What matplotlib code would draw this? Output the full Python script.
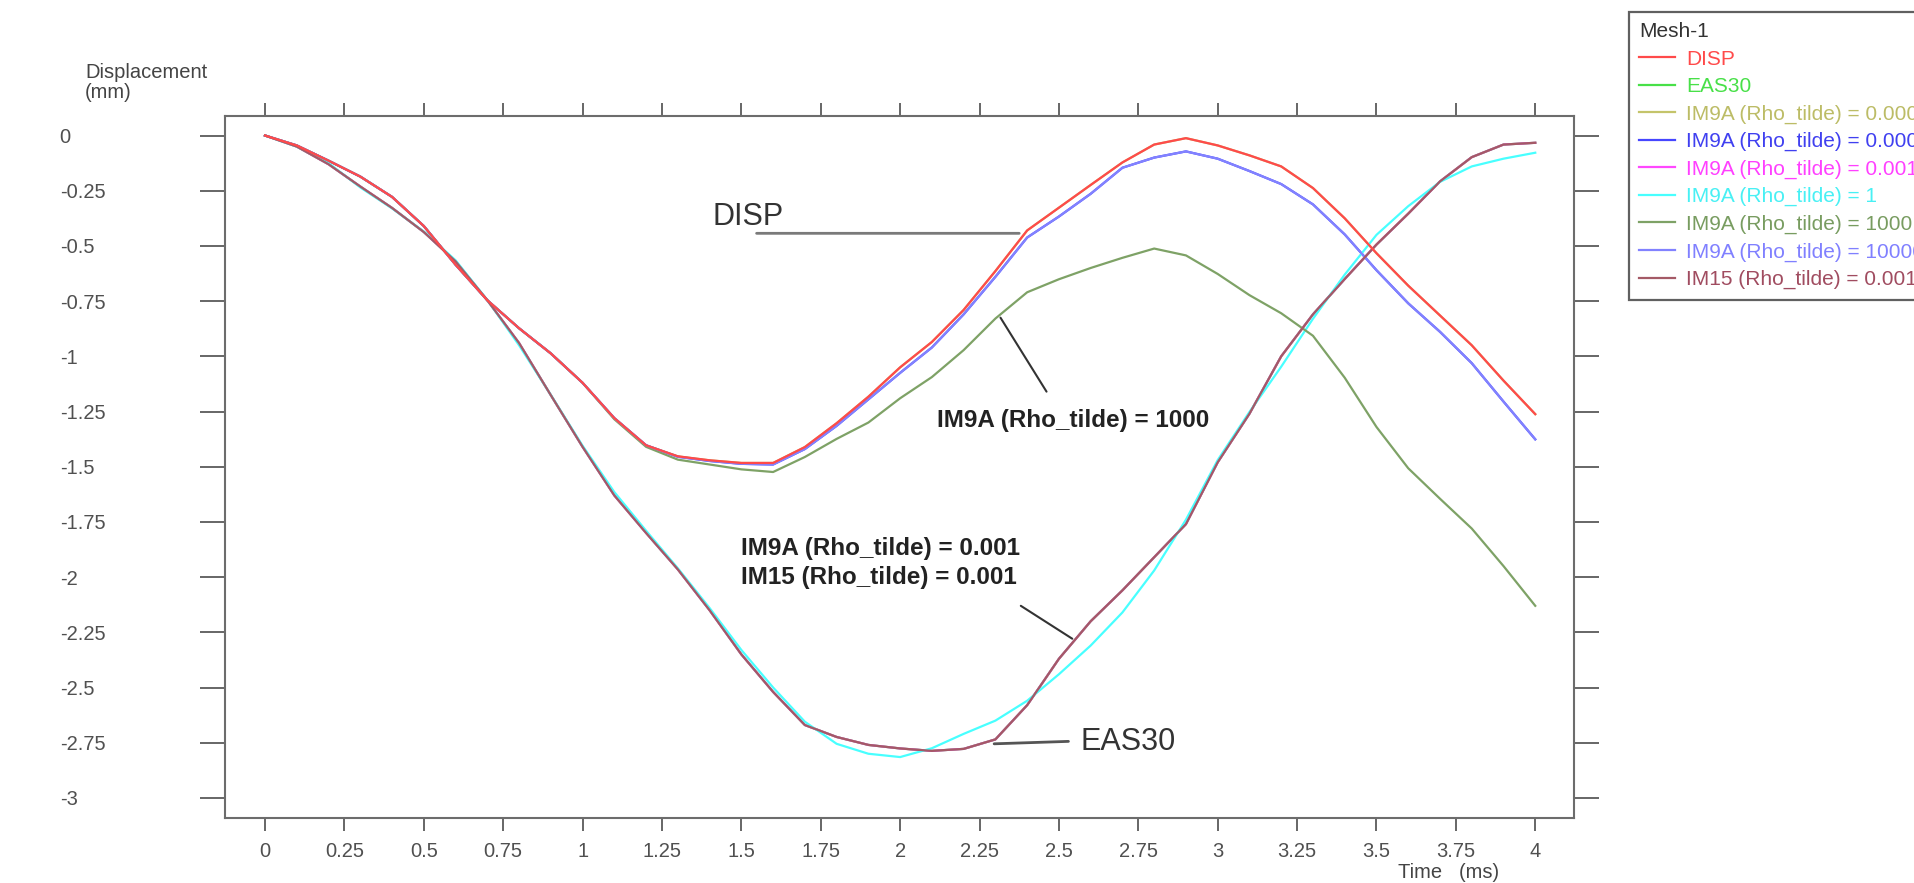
import matplotlib
matplotlib.use("Agg")
import matplotlib.pyplot as plt

plt.rcParams['font.family'] = ['Liberation Sans', 'DejaVu Sans']

# ---------------- data ----------------
time_ms = [0.0, 0.1, 0.2, 0.3, 0.4, 0.5, 0.6, 0.7, 0.8, 0.9,
           1.0, 1.1, 1.2, 1.3, 1.4, 1.5, 1.6, 1.7, 1.8, 1.9,
           2.0, 2.1, 2.2, 2.3, 2.4, 2.5, 2.6, 2.7, 2.8, 2.9,
           3.0, 3.1, 3.2, 3.3, 3.4, 3.5, 3.6, 3.7, 3.8, 3.9, 4.0]

disp = [0.0, -0.045, -0.114, -0.186, -0.278, -0.41, -0.585, -0.746, -0.873, -0.987,
        -1.12, -1.28, -1.403, -1.453, -1.471, -1.483, -1.483, -1.411, -1.303, -1.183,
        -1.05, -0.935, -0.79, -0.614, -0.43, -0.327, -0.224, -0.122, -0.041, -0.012,
        -0.045, -0.09, -0.14, -0.238, -0.375, -0.533, -0.68, -0.815, -0.95, -1.11, -1.262]

im9a_rho_10000 = [0.0, -0.045, -0.114, -0.186, -0.278, -0.41, -0.585, -0.746, -0.873, -0.987,
                  -1.12, -1.28, -1.403, -1.455, -1.474, -1.487, -1.49, -1.42, -1.315, -1.195,
                  -1.075, -0.96, -0.81, -0.64, -0.462, -0.367, -0.264, -0.146, -0.1, -0.072,
                  -0.105, -0.161, -0.22, -0.312, -0.448, -0.61, -0.76, -0.889, -1.031, -1.205, -1.376]

im9a_rho_1000 = [0.0, -0.045, -0.114, -0.186, -0.278, -0.41, -0.585, -0.746, -0.873, -0.987,
                 -1.12, -1.285, -1.41, -1.468, -1.49, -1.512, -1.524, -1.456, -1.374, -1.30,
                 -1.19, -1.094, -0.972, -0.829, -0.71, -0.651, -0.60, -0.554, -0.512, -0.543,
                 -0.627, -0.723, -0.805, -0.907, -1.097, -1.32, -1.507, -1.645, -1.78, -1.95, -2.13]

im9a_rho_1 = [0.0, -0.05, -0.125, -0.235, -0.33, -0.435, -0.565, -0.745, -0.95, -1.175,
              -1.405, -1.615, -1.79, -1.96, -2.14, -2.33, -2.50, -2.655, -2.755, -2.80,
              -2.815, -2.775, -2.71, -2.65, -2.56, -2.44, -2.31, -2.16, -1.97, -1.74,
              -1.47, -1.252, -1.047, -0.83, -0.63, -0.45, -0.32, -0.21, -0.14, -0.105, -0.078]

im15_rho_0p001 = [0.0, -0.05, -0.13, -0.231, -0.328, -0.437, -0.57, -0.746, -0.94, -1.176,
                  -1.41, -1.63, -1.80, -1.965, -2.15, -2.35, -2.52, -2.67, -2.724, -2.76,
                  -2.776, -2.787, -2.778, -2.735, -2.58, -2.37, -2.20, -2.06, -1.91, -1.76,
                  -1.48, -1.26, -1.00, -0.81, -0.65, -0.494, -0.354, -0.208, -0.098, -0.041, -0.033]

# curves that lie exactly beneath visible ones in the reference
eas30 = im15_rho_0p001
im9a_rho_0p001 = im15_rho_0p001
im9a_rho_0p00001 = disp
im9a_rho_0p0001 = im9a_rho_10000

series_labels = ['DISP', 'EAS30',
                 'IM9A (Rho_tilde) = 0.00001', 'IM9A (Rho_tilde) = 0.0001',
                 'IM9A (Rho_tilde) = 0.001', 'IM9A (Rho_tilde) = 1',
                 'IM9A (Rho_tilde) = 1000', 'IM9A (Rho_tilde) = 10000',
                 'IM15 (Rho_tilde) = 0.001']
series_values = [disp, eas30, im9a_rho_0p00001, im9a_rho_0p0001, im9a_rho_0p001,
                 im9a_rho_1, im9a_rho_1000, im9a_rho_10000, im15_rho_0p001]
line_colors = ['#ff4a4a', '#48e048', '#c4c46a', '#4646ff', '#ff48ff',
               '#48ffff', '#7ea266', '#8282ff', '#a45a66']
text_colors = ['#ff4a4a', '#48e048', '#bcbc66', '#4040f0', '#ff40ff',
               '#48f0f4', '#789c60', '#8080ff', '#a04c60']
z_orders = [10, 2, 3, 4, 5, 6, 7, 8, 9]

x_ticks = [0, 0.25, 0.5, 0.75, 1, 1.25, 1.5, 1.75, 2, 2.25, 2.5, 2.75, 3, 3.25, 3.5, 3.75, 4]
x_tick_labels = ['0', '0.25', '0.5', '0.75', '1', '1.25', '1.5', '1.75', '2',
                 '2.25', '2.5', '2.75', '3', '3.25', '3.5', '3.75', '4']
y_ticks = [0, -0.25, -0.5, -0.75, -1, -1.25, -1.5, -1.75, -2, -2.25, -2.5, -2.75, -3]
y_tick_labels = ['0', '-0.25', '-0.5', '-0.75', '-1', '-1.25', '-1.5', '-1.75', '-2',
                 '-2.25', '-2.5', '-2.75', '-3']

# ---------------- figure ----------------
W, H = 1915, 883
fig = plt.figure(figsize=(W / 100, H / 100), dpi=100, facecolor='white')
ax = fig.add_axes([225 / W, 1 - 818 / H, (1574 - 225) / W, (818 - 115.7) / H])

handles = []
for lab, vals, col, zo in zip(series_labels, series_values, line_colors, z_orders):
    h, = ax.plot(time_ms, vals, color=col, lw=1.6, zorder=zo, label=lab,
                 solid_joinstyle='round')
    handles.append(h)

ax.set_xlim(-0.126, 4.122)
ax.set_ylim(-3.091, 0.0897)

spine_col = '#6c6c6c'
for sp in ax.spines.values():
    sp.set_color(spine_col)
    sp.set_linewidth(1.5)

ax.set_xticks(x_ticks)
ax.set_xticklabels(x_tick_labels)
ax.set_yticks(y_ticks)
ax.set_yticklabels(y_tick_labels)
ax.tick_params(axis='x', which='both', direction='out', length=9.5, width=1.4,
               color='#666666', top=True, bottom=True, labelsize=14.5,
               labelcolor='#505050', pad=8)
ax.tick_params(axis='y', which='both', direction='out', length=18, width=1.4,
               color='#666666', left=True, right=True, labelsize=14.5,
               labelcolor='#505050', pad=101)
for t in ax.get_yticklabels():
    t.set_horizontalalignment('left')

# axis titles
fig.text(85 / W, 1 - 78.3 / H, 'Displacement', fontsize=14.5, color='#444444',
         ha='left', va='baseline')
fig.text(85 / W, 1 - 97.5 / H, '(mm)', fontsize=14.5, color='#444444',
         ha='left', va='baseline')
fig.text(1449 / W, 1.5 / H, 'Time   (ms)', fontsize=14.5, color='#444444',
         ha='center', va='bottom')

# annotations
lead_dark = dict(arrowstyle='-', color='#333333', lw=1.5, shrinkA=0, shrinkB=0)
ax.text(1.409, -0.405, 'DISP', fontsize=22, color='#333333', ha='left', va='baseline')
ax.annotate('', xy=(2.375, -0.443), xytext=(1.548, -0.443),
            arrowprops=dict(arrowstyle='-', color='#7a7a7a', lw=2.0, shrinkA=0, shrinkB=0))

ax.text(2.117, -1.319, 'IM9A (Rho_tilde) = 1000', fontsize=17.5, fontweight='bold',
        color='#222222', ha='left', va='baseline')
ax.annotate('', xy=(2.316, -0.825), xytext=(2.461, -1.16), arrowprops=lead_dark)

ax.text(1.50, -1.898, 'IM9A (Rho_tilde) = 0.001', fontsize=17.5, fontweight='bold',
        color='#222222', ha='left', va='baseline')
ax.text(1.50, -2.029, 'IM15 (Rho_tilde) = 0.001', fontsize=17.5, fontweight='bold',
        color='#222222', ha='left', va='baseline')
ax.annotate('', xy=(2.542, -2.279), xytext=(2.38, -2.13), arrowprops=lead_dark)

ax.text(2.569, -2.781, 'EAS30', fontsize=22, color='#333333', ha='left', va='baseline')
ax.annotate('', xy=(2.296, -2.755), xytext=(2.53, -2.744),
            arrowprops=dict(arrowstyle='-', color='#555555', lw=2.0, shrinkA=0, shrinkB=0))

# legend
leg = fig.legend(handles=handles, labels=series_labels, loc='upper left',
                 bbox_to_anchor=(1629 / W, 1 - 12 / H), bbox_transform=fig.transFigure,
                 fontsize=15, title='Mesh-1', title_fontsize=15, alignment='left',
                 handlelength=1.7, handletextpad=0.55, labelspacing=0.4,
                 borderpad=0.5, borderaxespad=0, fancybox=False, frameon=True,
                 edgecolor='#606060', facecolor='white', framealpha=1)
leg.get_frame().set_linewidth(1.6)
leg.get_title().set_color('#333333')
for txt, c in zip(leg.get_texts(), text_colors):
    txt.set_color(c)
for lh in leg.get_lines():
    lh.set_linewidth(1.6)

fig.savefig('out.png', dpi=100, facecolor='white')
